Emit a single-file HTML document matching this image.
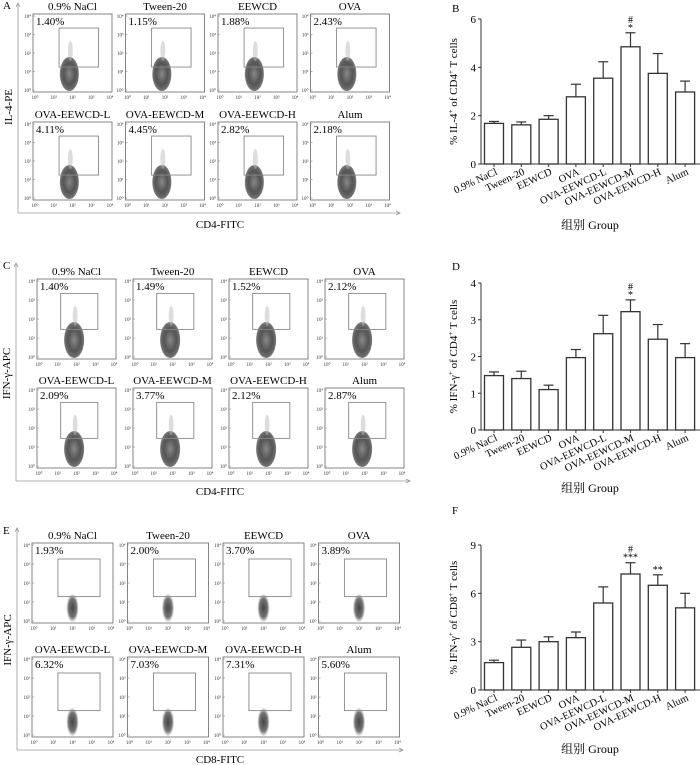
<!DOCTYPE html>
<html><head><meta charset="utf-8">
<style>
html,body{margin:0;padding:0;background:#fff;}
svg{display:block;font-family:"Liberation Serif","Noto Serif CJK SC","Noto Sans CJK SC",serif;}
</style></head>
<body>
<svg id="fig" width="700" height="765" viewBox="0 0 700 765" xmlns="http://www.w3.org/2000/svg">
<defs>
<radialGradient id="blob" cx="50%" cy="50%" r="50%">
<stop offset="0%" stop-color="#888"/><stop offset="60%" stop-color="#555"/><stop offset="100%" stop-color="#222" stop-opacity="0.6"/>
</radialGradient>
<radialGradient id="blobE" cx="50%" cy="50%" r="50%">
<stop offset="0%" stop-color="#444"/><stop offset="70%" stop-color="#777"/><stop offset="100%" stop-color="#bbb" stop-opacity="0.3"/>
</radialGradient>
</defs>
<g id="root"></g>
</svg>
<script>
// ---- bar chart data ----
const categories = ["0.9% NaCl","Tween-20","EEWCD","OVA","OVA-EEWCD-L","OVA-EEWCD-M","OVA-EEWCD-H","Alum"];
const il4Means = [1.68,1.62,1.85,2.78,3.55,4.85,3.75,2.98];
const il4Errs  = [0.08,0.12,0.15,0.52,0.68,0.58,0.82,0.45];
const il4Ticks = [0,2,4,6];
const ifnCd4Means = [1.48,1.40,1.10,1.97,2.62,3.22,2.47,1.97];
const ifnCd4Errs  = [0.10,0.20,0.12,0.22,0.50,0.32,0.40,0.38];
const ifnCd4Ticks = [0,1,2,3,4];
const ifnCd8Means = [1.70,2.65,3.00,3.25,5.40,7.20,6.50,5.10];
const ifnCd8Errs  = [0.15,0.45,0.30,0.35,1.00,0.70,0.65,0.90];
const ifnCd8Ticks = [0,3,6,9];
const il4Sig = [["",""],["",""],["",""],["",""],["",""],["#","*"],["",""],["",""]];
const ifnCd4Sig = [["",""],["",""],["",""],["",""],["",""],["#","*"],["",""],["",""]];
const ifnCd8Sig = [["",""],["",""],["",""],["",""],["",""],["#","***"],["","**"],["",""]];
// ---- flow data ----
const il4Pct = ["1.40%","1.15%","1.88%","2.43%","4.11%","4.45%","2.82%","2.18%"];
const ifnCd4Pct = ["1.40%","1.49%","1.52%","2.12%","2.09%","3.77%","2.12%","2.87%"];
const ifnCd8Pct = ["1.93%","2.00%","3.70%","3.89%","6.32%","7.03%","7.31%","5.60%"];

const NS="http://www.w3.org/2000/svg";
const root=document.getElementById('root');
function mk(tag,attrs,parent,text){const e=document.createElementNS(NS,tag);for(const k in attrs)e.setAttribute(k,attrs[k]);if(text!==undefined)e.textContent=text;(parent||root).appendChild(e);return e;}

function flowPanel(cfg){
  const g=mk('g',{});
  
  
  const L=mk('text',{x:cfg.letterX,y:cfg.axTop+6,'font-size':11},g,cfg.letter);
  
  
  mk('path',{d:`M${cfg.axX},${cfg.axBottom} V${cfg.axTop} M${cfg.axX-2},${cfg.axTop+4} L${cfg.axX},${cfg.axTop} L${cfg.axX+2},${cfg.axTop+4} M${cfg.axX},${cfg.axBottom} H${cfg.axRight} M${cfg.axRight-4},${cfg.axBottom-2} L${cfg.axRight},${cfg.axBottom} L${cfg.axRight-4},${cfg.axBottom+2}`,stroke:'#999',fill:'none','stroke-width':0.8},g);
  const yl=mk('text',{x:0,y:0,'font-size':11,'text-anchor':'middle',transform:`translate(${cfg.axX-6},${(cfg.rows[0]+cfg.rows[1]+cfg.bh)/2}) rotate(-90)`},g,cfg.ylabel);
  
  
  const xl=mk('text',{x:cfg.xlabX,y:cfg.xlabY,'font-size':11,'text-anchor':'middle'},g,cfg.xlabel);
  
  
  for(let i=0;i<8;i++){
    const r=Math.floor(i/4),c=i%4;
    const bx=cfg.x0+c*cfg.pitch, by=cfg.rows[r], bw=cfg.bw, bh=cfg.bh;
    const pg=mk('g',{},g);
    
    
    const t=mk('text',{x:bx+bw/2,y:by-4,'font-size':11,'text-anchor':'middle'},pg,categories[i]);
    
    
    mk('rect',{x:bx,y:by,width:bw,height:bh,fill:'none',stroke:'#777','stroke-width':0.9},pg);
    for(let k=0;k<5;k++){
      const yy=by+bh-2-k*(bh-4)/4;
      mk('line',{x1:bx,x2:bx+2,y1:yy,y2:yy,stroke:'#777','stroke-width':0.5},pg);
      mk('text',{x:bx-2,y:yy+2,'font-size':5,'text-anchor':'end',fill:'#333'},pg,'10'+['⁰','¹','²','³','⁴'][k]);
      const xx=bx+2+k*(bw-4)/4;
      mk('text',{x:xx,y:by+bh+7,'font-size':5,'text-anchor':'middle',fill:'#333'},pg,'10'+['⁰','¹','²','³','⁴'][k]);
    }
    const cx=bx+bw*cfg.blobX, bb=by+bh-1;
    if(cfg.style==='E'){
      mk('ellipse',{cx:cx,cy:bb-cfg.blobH/2,rx:cfg.blobW/2,ry:cfg.blobH/2,fill:'url(#blobE)'},pg);
    } else {
      mk('ellipse',{cx:cx,cy:bb-cfg.blobH/2,rx:cfg.blobW/2,ry:cfg.blobH/2,fill:'url(#blob)'},pg);
      mk('ellipse',{cx:cx+1,cy:bb-cfg.blobH-6,rx:2.5,ry:10,fill:'#bbb',opacity:0.5},pg);
    }
    const gate=mk('rect',{x:bx+bw*cfg.gx0,y:by+bh*cfg.gy0,width:bw*(cfg.gx1-cfg.gx0),height:bh*(cfg.gy1-cfg.gy0),fill:'none',stroke:'#888','stroke-width':0.9},pg);
    
    
    const p=mk('text',{x:bx+3,y:by+11,'font-size':11},pg,cfg.pct[i]);
    
    
  }
}

function barChart(cfg){
  const g=mk('g',{});
  
  
  const L=mk('text',{x:452,y:cfg.letterY,'font-size':11},g,cfg.letter);
  
  
  const x0=481,y0=cfg.y0,yt=cfg.yTop,vmax=cfg.ticks[cfg.ticks.length-1];
  const ys=v=>y0-(v/vmax)*(y0-yt);
  const xs=i=>494+i*27.3;
  mk('path',{d:`M${x0},${yt} V${y0} H700`,stroke:'#333',fill:'none','stroke-width':1},g);
  cfg.ticks.forEach(t=>{
    mk('line',{x1:x0-3,x2:x0,y1:ys(t),y2:ys(t),stroke:'#333'},g);
    const tl=mk('text',{x:x0-5,y:ys(t)+4,'font-size':11,'text-anchor':'end'},g,String(t));
    
    
  });
  const yl=mk('text',{'font-size':11,'text-anchor':'middle',transform:`translate(${457},${(y0+yt)/2}) rotate(-90)`},g);
  
  
  yl.innerHTML=cfg.ylabel;
  cfg.means.forEach((m,i)=>{
    const cx=xs(i), top=ys(m), et=ys(m+cfg.errs[i]);
    mk('line',{x1:cx,x2:cx,y1:top,y2:et,stroke:'#333','stroke-width':1.2},g);
    mk('line',{x1:cx-5,x2:cx+5,y1:et,y2:et,stroke:'#333','stroke-width':1.2},g);
    const b=mk('rect',{x:cx-9.5,y:top,width:19,height:y0-top,fill:'#fff',stroke:'#333','stroke-width':1.3},g);
    
    
    mk('line',{x1:cx,x2:cx,y1:y0,y2:y0+3,stroke:'#333'},g);
    const cl=mk('text',{'font-size':10.5,'text-anchor':'end',transform:`translate(${cx+4},${y0+10}) rotate(-25)`},g,categories[i]);
    
    
    const s=cfg.sig[i];
    if(s[1]){const t=mk('text',{x:cx,y:et-2,'font-size':10,'text-anchor':'middle'},g,s[1]);}
    if(s[0]){const t=mk('text',{x:cx,y:et-10,'font-size':10,'text-anchor':'middle'},g,s[0]);}
  });
  if(cfg.groupY){
    const gl=mk('text',{x:590,y:cfg.groupY,'font-size':12,'text-anchor':'middle'},g,'组别 Group');
    
    
  }
}

flowPanel({name:'panel-a-flow',letter:'A',letterX:3,axX:18,axTop:3,axBottom:213,axRight:400,xlabX:220,xlabY:228,
  ylabel:'IL-4-PE',xlabel:'CD4-FITC',x0:33,pitch:92.5,bw:79,bh:78,rows:[14,122],
  blobX:0.46,blobW:19,blobH:34,gx0:0.33,gx1:0.83,gy0:0.18,gy1:0.68,pct:il4Pct,style:'A'});
flowPanel({name:'panel-c-flow',letter:'C',letterX:3,axX:16,axTop:263,axBottom:481,axRight:410,xlabX:220,xlabY:495,
  ylabel:'IFN-γ-APC',xlabel:'CD4-FITC',x0:37,pitch:96,bw:79,bh:80,rows:[279,388],
  blobX:0.47,blobW:20,blobH:36,gx0:0.30,gx1:0.77,gy0:0.18,gy1:0.63,pct:ifnCd4Pct,style:'C'});
flowPanel({name:'panel-e-flow',letter:'E',letterX:3,axX:17,axTop:528,axBottom:750,axRight:403,xlabX:220,xlabY:763,
  ylabel:'IFN-γ-APC',xlabel:'CD8-FITC',x0:32,pitch:95.5,bw:81,bh:80,rows:[543,657],
  blobX:0.50,blobW:12,blobH:28,gx0:0.32,gx1:0.84,gy0:0.20,gy1:0.67,pct:ifnCd8Pct,style:'E'});

barChart({name:'panel-b-il4-cd4',letter:'B',letterY:12,y0:164,yTop:19,ticks:il4Ticks,means:il4Means,errs:il4Errs,sig:il4Sig,
  ylabel:'% IL-4<tspan font-size="7" dy="-4">+</tspan><tspan dy="4"> of CD4</tspan><tspan font-size="7" dy="-4">+</tspan><tspan dy="4"> T cells</tspan>',groupY:229});
barChart({name:'panel-d-ifn-cd4',letter:'D',letterY:270,y0:430,yTop:283,ticks:ifnCd4Ticks,means:ifnCd4Means,errs:ifnCd4Errs,sig:ifnCd4Sig,
  ylabel:'% IFN-γ<tspan font-size="7" dy="-4">+</tspan><tspan dy="4"> of CD4</tspan><tspan font-size="7" dy="-4">+</tspan><tspan dy="4"> T cells</tspan>',groupY:492});
barChart({name:'panel-f-ifn-cd8',letter:'F',letterY:514,y0:690,yTop:545,ticks:ifnCd8Ticks,means:ifnCd8Means,errs:ifnCd8Errs,sig:ifnCd8Sig,
  ylabel:'% IFN-γ<tspan font-size="7" dy="-4">+</tspan><tspan dy="4"> of CD8</tspan><tspan font-size="7" dy="-4">+</tspan><tspan dy="4"> T cells</tspan>',groupY:753});
</script>
</body></html>
